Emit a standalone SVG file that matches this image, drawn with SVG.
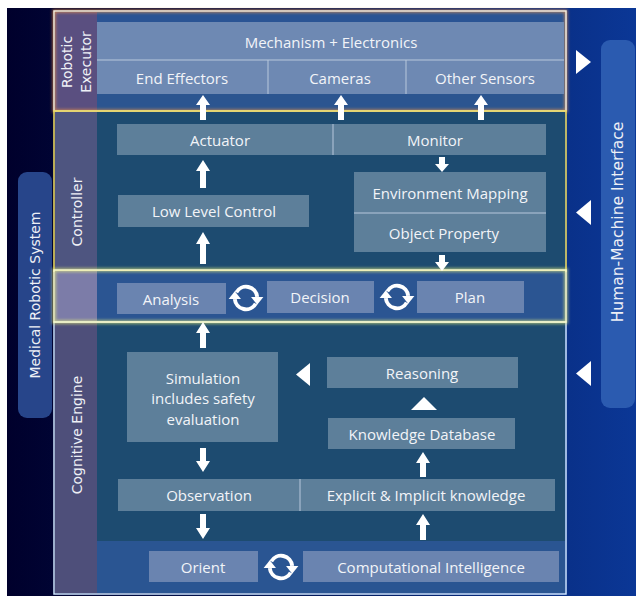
<svg xmlns="http://www.w3.org/2000/svg" xmlns:xlink="http://www.w3.org/1999/xlink" width="636" height="596" viewBox="0 0 636 596">
<defs>
<linearGradient id="bg" x1="0" y1="0" x2="1" y2="0">
<stop offset="0" stop-color="#00002c"/>
<stop offset="0.5" stop-color="#031a5c"/>
<stop offset="1" stop-color="#0b3796"/>
</linearGradient>
<filter id="glow" x="-5%" y="-20%" width="110%" height="140%"><feGaussianBlur stdDeviation="1.5"/></filter>
<g id="cycle">
<path d="M -8.66 -5 A 10 10 0 0 1 10 -1" fill="none" stroke="#fff" stroke-width="3.5"/>
<polygon points="4.5,-1 15.5,-1 10,6" fill="#fff"/>
<path d="M 8.66 5 A 10 10 0 0 1 -10 1" fill="none" stroke="#fff" stroke-width="3.5"/>
<polygon points="-15.5,1 -4.5,1 -10,-6" fill="#fff"/>
</g>
</defs>
<style>
.t{font-family:"Open Sans","Noto Sans","Liberation Sans",sans-serif;font-size:15px;fill:#f2f4f8;text-anchor:middle;dominant-baseline:central}
.v{font-family:"DejaVu Sans","Noto Sans",sans-serif;font-size:14px;fill:#eef0f6;text-anchor:middle;dominant-baseline:central}
.b1{fill:#6e89b3}
.b2{fill:#5d7f9a}
.b3{fill:#6a84b0}
.sep{stroke:#b8c8dc;stroke-width:1}
.ar{fill:#fff}
</style>
<rect width="636" height="596" fill="#fff"/>
<rect x="7" y="8" width="629" height="588" fill="url(#bg)"/>

<g id="medical-robotic-system">
<rect x="18" y="172" width="34" height="246" rx="9" fill="#27458a"/>
<text class="v" transform="translate(35,295) rotate(-90)">Medical Robotic System</text>
</g>
<g id="human-machine-interface">
<rect x="601" y="40" width="34" height="368" rx="9" fill="#2b5bb0"/>
<text class="v" style="font-size:15.5px" transform="translate(618,222) rotate(-90)">Human-Machine Interface</text>
</g>

<g id="robotic-executor">
<rect x="55" y="12" width="510" height="98" fill="#2b5590"/>
<rect x="55" y="12" width="42" height="98" fill="#5a4f80"/>
<rect x="97" y="12" width="468" height="10" fill="#2a5494"/>
<text class="v" transform="translate(67,62) rotate(-90)">Robotic</text>
<text class="v" transform="translate(86,62) rotate(-90)">Executor</text>
<rect x="54" y="11" width="512" height="100" fill="none" stroke="#ff9a40" stroke-width="3" opacity="0.7" filter="url(#glow)"/>
<rect x="54" y="11" width="512" height="100" fill="none" stroke="#f4eee0" stroke-width="1.5"/>
</g>
<g id="mechanism">
<rect class="b1" x="97" y="22" width="467" height="38"/>
<text class="t" x="331" y="42">Mechanism + Electronics</text>
</g>
<g id="end-effectors">
<rect class="b1" x="97" y="60" width="171" height="34"/>
<text class="t" x="182" y="78">End Effectors</text>
</g>
<g id="cameras">
<rect class="b1" x="268" y="60" width="138" height="34"/>
<text class="t" x="340" y="78">Cameras</text>
</g>
<g id="other-sensors">
<rect class="b1" x="406" y="60" width="158" height="34"/>
<text class="t" x="485" y="78">Other Sensors</text>
</g>
<line class="sep" x1="97" y1="60" x2="564" y2="60"/>
<line class="sep" x1="268" y1="60" x2="268" y2="94"/>
<line class="sep" x1="406" y1="60" x2="406" y2="94"/>

<g id="controller">
<rect x="55" y="112" width="510" height="158" fill="#1d4b70"/>
<rect x="55" y="112" width="42" height="158" fill="#4e5580"/>
<text class="v" transform="translate(77,212) rotate(-90)">Controller</text>
<rect x="54" y="111" width="512" height="160" fill="none" stroke="#e8d860" stroke-width="2" opacity="0.8"/>
</g>
<g id="actuator">
<rect class="b2" x="117" y="124" width="216" height="31"/>
<text class="t" x="220" y="140">Actuator</text>
</g>
<g id="monitor">
<rect class="b2" x="333" y="124" width="213" height="31"/>
<text class="t" x="435" y="140">Monitor</text>
</g>
<line class="sep" x1="333" y1="124" x2="333" y2="155"/>
<g id="low-level-control">
<rect class="b2" x="118" y="195" width="191" height="32"/>
<text class="t" x="214" y="211">Low Level Control</text>
</g>
<g id="environment-mapping">
<rect class="b2" x="354" y="172" width="192" height="41"/>
<text class="t" x="450" y="193">Environment Mapping</text>
</g>
<g id="object-property">
<rect class="b2" x="354" y="213" width="192" height="39"/>
<text class="t" x="444" y="233">Object Property</text>
</g>
<line class="sep" x1="354" y1="213" x2="546" y2="213"/>

<g id="decision-band">
<rect x="55" y="271" width="510" height="50" fill="#2b5592"/>
<rect x="55" y="271" width="42" height="50" fill="#7c7ca8"/>
</g>
<g id="analysis">
<rect class="b3" x="117" y="283" width="109" height="31"/>
<text class="t" x="171" y="299">Analysis</text>
</g>
<g id="decision">
<rect class="b3" x="267" y="281" width="107" height="32"/>
<text class="t" x="320" y="297">Decision</text>
</g>
<g id="plan">
<rect class="b3" x="417" y="281" width="107" height="32"/>
<text class="t" x="470" y="297">Plan</text>
</g>

<g id="cognitive-engine">
<rect x="55" y="323" width="510" height="270" fill="#1d4b70"/>
<rect x="97" y="541" width="468" height="52" fill="#2a5592"/>
<rect x="55" y="323" width="42" height="270" fill="#4e4f7a"/>
<text class="v" transform="translate(77,435) rotate(-90)">Cognitive Engine</text>
<rect x="54" y="322" width="512" height="272" fill="none" stroke="#cfe6ff" stroke-width="1.5"/>
</g>
<rect x="54" y="270" width="512" height="52" fill="none" stroke="#e8f27a" stroke-width="4" opacity="0.6" filter="url(#glow)"/>
<rect x="54" y="270" width="512" height="52" fill="none" stroke="#f6f8d0" stroke-width="1.5"/>

<g id="simulation">
<rect class="b2" x="127" y="352" width="151" height="90"/>
<text class="t" x="203" y="378">Simulation</text>
<text class="t" x="203" y="398">includes safety</text>
<text class="t" x="203" y="419">evaluation</text>
</g>
<g id="reasoning">
<rect class="b2" x="327" y="357" width="191" height="31"/>
<text class="t" x="422" y="373">Reasoning</text>
</g>
<g id="knowledge-database">
<rect class="b2" x="328" y="418" width="187" height="31"/>
<text class="t" x="422" y="434">Knowledge Database</text>
</g>
<g id="observation">
<rect class="b2" x="118" y="479" width="182" height="32"/>
<text class="t" x="209" y="495">Observation</text>
</g>
<g id="explicit-implicit">
<rect class="b2" x="300" y="479" width="255" height="32"/>
<text class="t" x="426" y="495">Explicit &amp; Implicit knowledge</text>
</g>
<line class="sep" x1="300" y1="479" x2="300" y2="511"/>
<g id="orient">
<rect class="b3" x="149" y="551" width="109" height="31"/>
<text class="t" x="203" y="567">Orient</text>
</g>
<g id="computational-intelligence">
<rect class="b3" x="303" y="551" width="256" height="31"/>
<text class="t" x="431" y="567">Computational Intelligence</text>
</g>

<g id="connectors">
<polygon class="ar" points="200,120 206,120 206,105 210,105 203,95 196,105 200,105"/>
<polygon class="ar" points="338,120 344,120 344,105 348,105 341,95 334,105 338,105"/>
<polygon class="ar" points="478,120 484,120 484,105 488,105 481,95 474,105 478,105"/>
<polygon class="ar" points="200,188 206,188 206,171 210,171 203,160 196,171 200,171"/>
<polygon class="ar" points="200,264 206,264 206,244 210,244 203,232 196,244 200,244"/>
<polygon class="ar" points="439,157 445,157 445,164 449,164 442,172 435,164 439,164"/>
<polygon class="ar" points="439,255 445,255 445,262 449,262 442,271 435,262 439,262"/>
<use xlink:href="#cycle" href="#cycle" transform="translate(246,298) scale(1.12)"/>
<use xlink:href="#cycle" href="#cycle" transform="translate(397,297) scale(1.12)"/>
<use xlink:href="#cycle" href="#cycle" transform="translate(281,567) scale(1.12)"/>
<polygon class="ar" points="200,348 206,348 206,333 210,333 203,322 196,333 200,333"/>
<polygon class="ar" points="310,363 310,386 296,374.5"/>
<polygon class="ar" points="411,410 437,410 424,397"/>
<polygon class="ar" points="420,477 426,477 426,463 430,463 423,452 416,463 420,463"/>
<polygon class="ar" points="200,448 206,448 206,461 210,461 203,472 196,461 200,461"/>
<polygon class="ar" points="200,514 206,514 206,528 210,528 203,539 196,528 200,528"/>
<polygon class="ar" points="420,540 426,540 426,525 430,525 423,514 416,525 420,525"/>
<polygon class="ar" points="576,50 576,74 591,62"/>
<polygon class="ar" points="591,200 591,225 576,212.5"/>
<polygon class="ar" points="591,361 591,386 576,373.5"/>
</g>
</svg>
